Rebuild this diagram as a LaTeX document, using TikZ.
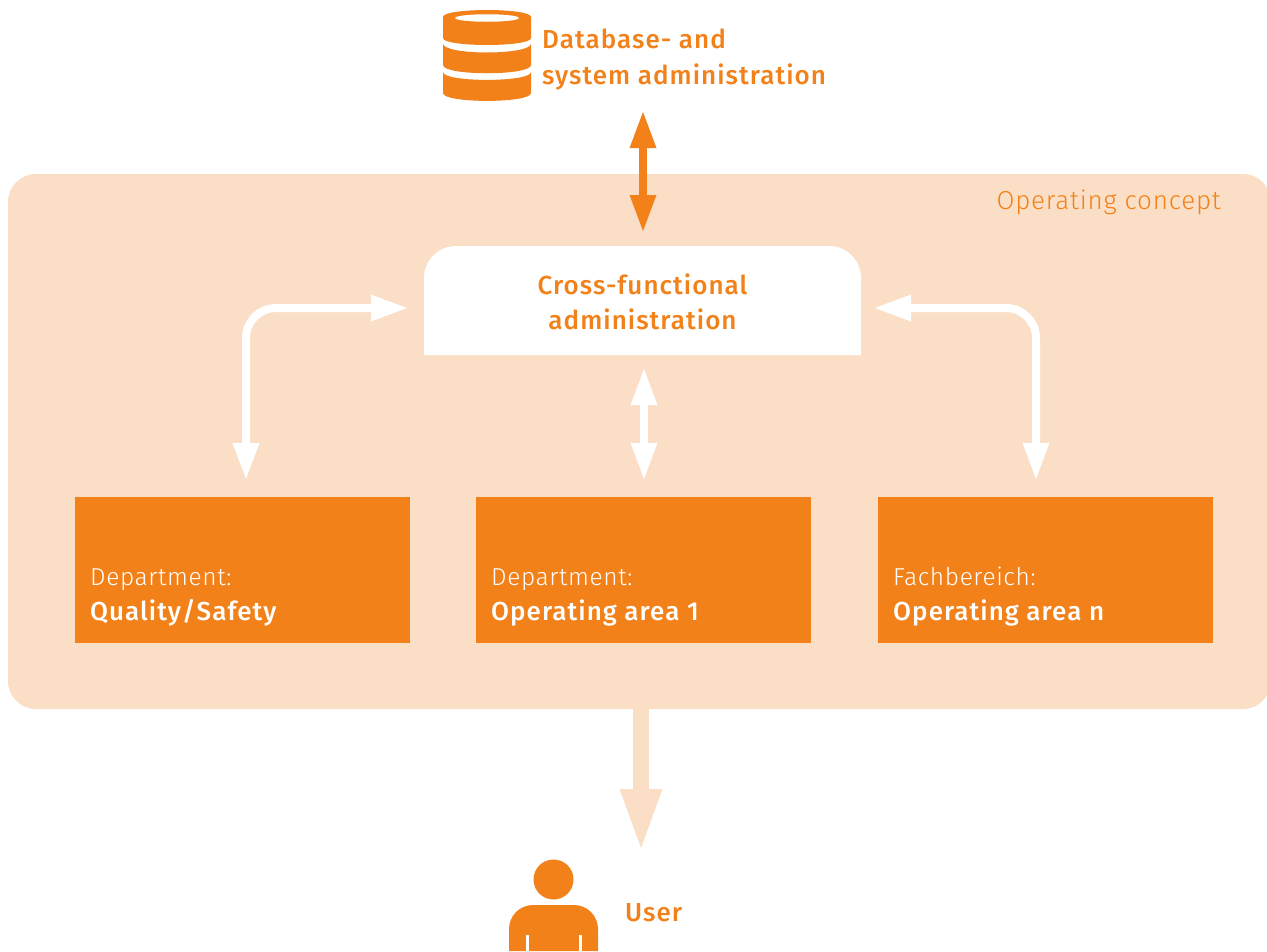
\documentclass[tikz,border=0pt]{standalone}
\usepackage{fontspec}
\setmainfont{Fira Sans}
\newfontfamily\medf[LetterSpace=4]{Fira Sans Medium}
\newfontfamily\lightf[LetterSpace=3]{Fira Sans Light}
\newfontfamily\lightg[LetterSpace=2.5]{Fira Sans Light}
\usetikzlibrary{arrows.meta}
\definecolor{ora}{HTML}{F28119}
\definecolor{pale}{HTML}{FADFC6}
\tikzset{
  x=1pt,y=-1pt,
  lab/.style={inner sep=0pt,anchor=base west,text=ora,font=\medf\fontsize{26}{26}\selectfont},
  lablight/.style={inner sep=0pt,anchor=base east,text=ora,font=\lightf\fontsize{26}{26}\selectfont},
  adminlab/.style={inner sep=0pt,anchor=base,text=ora,font=\medf\fontsize{26}{26}\selectfont},
  deptbox/.style={fill=ora,inner sep=0pt,minimum width=335pt,minimum height=146pt,anchor=north west},
  depttop/.style={inner sep=0pt,anchor=base west,text=white,font=\lightg\fontsize{24.5}{24.5}\selectfont},
  deptname/.style={inner sep=0pt,anchor=base west,text=white,font=\medf\fontsize{26}{26}\selectfont},
  thin link/.style={line width=8pt,{Triangle[length=36pt,width=27pt,line width=0pt]}-{Triangle[length=36pt,width=27pt,line width=0pt]}},
  big link/.style={line width=16pt,pale,-{Triangle[length=59pt,width=43pt,line width=0pt]}},
  hit/.style={inner sep=0pt,minimum size=0pt}
}
\begin{document}
\begin{tikzpicture}
\useasboundingbox (0,0) rectangle (1267,951);
% panel
\fill[pale,rounded corners=28pt] (8,174) rectangle (1271,709);
\node[hit,minimum width=1263pt,minimum height=535pt,anchor=north west] (panel) at (8,174) {};
% admin
\fill[white] (424,355) [rounded corners=32pt] -- (424,246) -- (861,246) [sharp corners] -- (861,355) -- cycle;
\node[hit,minimum width=437pt,minimum height=109pt,anchor=north west] (admin) at (424,246) {};
\node[adminlab] (a1) at (642.5,294) {Cross-functional};
\node[adminlab] (a2) at (642.5,329) {administration};
\node[lablight] (concept) at (1221,209) {Operating concept};
% departments
\node[deptbox] (d1) at (75,497) {};
\node[deptbox] (d2) at (476,497) {};
\node[deptbox] (d3) at (878,497) {};
\node[depttop] (d1a) at (90,585) {Department:};
\node[deptname] (d1b) at (90,620) {Quality/Safety};
\node[depttop] (d2a) at (491,585) {Department:};
\node[deptname] (d2b) at (491,620) {Operating area 1};
\node[depttop] (d3a) at (893,585) {Fachbereich:};
\node[deptname] (d3b) at (893,620) {Operating area n};
% database icon
\node[hit,minimum width=88pt,minimum height=91pt,anchor=north west] (db) at (443,10) {};
\fill[ora,even odd rule] (443,17) .. controls (443,7.7) and (531,7.7) .. (531,17)
  -- (531,38) .. controls (531,47.3) and (443,47.3) .. (443,38) -- cycle
  (455,18) .. controls (455,13) and (519,13) .. (519,18) .. controls (519,23) and (455,23) .. (455,18) -- cycle;
\fill[ora] (443,43.5) .. controls (443,55.5) and (531,55.5) .. (531,43.5)
  -- (531,65) .. controls (531,76) and (443,76) .. (443,65) -- cycle;
\fill[ora] (443,72) .. controls (443,82.5) and (531,82.5) .. (531,72)
  -- (531,93) .. controls (531,103.5) and (443,103.5) .. (443,93) -- cycle;
\node[lab] (dbl1) at (542,48) {Database- and};
\node[lab] (dbl2) at (542,84) {system administration};
% user icon
\fill[ora] (553.5,879.5) circle (20pt);
\coordinate (uhead) at (553.5,879.5);
\fill[ora] (509,951) [rounded corners=24pt] -- (509,905) -- (598,905) [sharp corners] -- (598,951) -- cycle;
\fill[white] (525.5,935) rectangle (528.5,951);
\fill[white] (578.5,935) rectangle (581.5,951);
\node[lab] (user) at (625,921) {User};
% connector end points
\coordinate (t1) at (643,112);
\coordinate (t2) at (643,231);
\coordinate (l1) at (407,308);
\coordinate (l2) at (246,479);
\coordinate (m1) at (644,369);
\coordinate (m2) at (644,479);
\coordinate (r1) at (875,308);
\coordinate (r2) at (1036,479);
\coordinate (b1) at (641,709);
\coordinate (b2) at (641,848);
% connectors
\draw[thin link,ora] (t1) -- (t2);
\draw[thin link,white,rounded corners=30pt] (l1) -| (l2);
\draw[thin link,white] (m1) -- (m2);
\draw[thin link,white,rounded corners=30pt] (r1) -| (r2);
\draw[big link] (b1) -- (b2);
\end{tikzpicture}
\end{document}
